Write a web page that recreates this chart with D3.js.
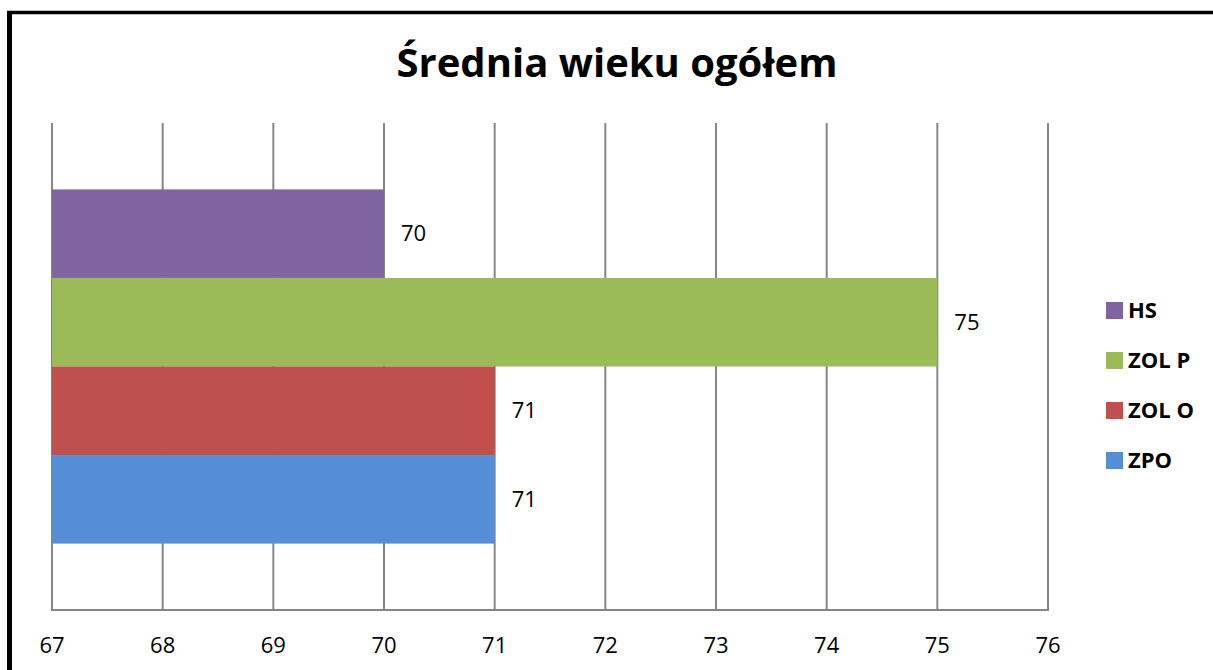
<!DOCTYPE html>
<html>
<head>
<meta charset="utf-8">
<script src="https://cdn.jsdelivr.net/npm/d3@7"></script>
<style>
  body { margin: 0; background: #fff; }
  svg { display: block; }
  .grid line { stroke: #868686; stroke-width: 2; }
  .tick-label { font-family: "Open Sans", sans-serif; font-size: 22px; fill: #000; }
  .bar-label { font-family: "Open Sans", sans-serif; font-size: 22px; fill: #000; }
  .legend-label { font-family: "Open Sans", sans-serif; font-size: 22px; font-weight: bold; fill: #000; }
  .title { font-family: "Open Sans", sans-serif; font-size: 40px; font-weight: bold; fill: #000; }
</style>
</head>
<body>
<script>
var WIDTH = 1213;
var HEIGHT = 670;

// series, top to bottom as drawn
var seriesNames = ['HS', 'ZOL P', 'ZOL O', 'ZPO'];
var seriesValues = [70, 75, 71, 71];
var seriesColors = ['#8064A2', '#9BBB59', '#C0504D', '#558ED5'];
var tickValues = [67, 68, 69, 70, 71, 72, 73, 74, 75, 76];

var plot = { left: 52, right: 1048, top: 123, bottom: 610 };

var x = d3.scaleLinear()
    .domain([67, 76])
    .range([plot.left, plot.right]);

// excel gap width 150% -> 0.75 bar on each side of the group
var y = d3.scaleBand()
    .domain(seriesNames)
    .range([plot.top, plot.bottom])
    .paddingInner(0)
    .paddingOuter(0.75);

var svg = d3.select('body')
    .append('svg')
    .attr('width', WIDTH)
    .attr('height', HEIGHT);

// chart frame (only the left and top edges are in view)
svg.append('line')
    .attr('x1', 9.5).attr('x2', 9.5)
    .attr('y1', 11).attr('y2', HEIGHT)
    .attr('stroke', '#000').attr('stroke-width', 5);
svg.append('line')
    .attr('x1', 7).attr('x2', WIDTH)
    .attr('y1', 12.5).attr('y2', 12.5)
    .attr('stroke', '#000').attr('stroke-width', 3.5);

svg.append('text')
    .attr('class', 'title')
    .attr('x', 617)
    .attr('y', 77)
    .attr('text-anchor', 'middle')
    .text('Średnia wieku ogółem');

var grid = svg.append('g').attr('class', 'grid');

grid.selectAll('line.v')
    .data(tickValues)
    .enter()
    .append('line')
    .attr('class', 'v')
    .attr('x1', function (d) { return x(d); })
    .attr('x2', function (d) { return x(d); })
    .attr('y1', plot.top)
    .attr('y2', plot.bottom);

grid.append('line')
    .attr('x1', plot.left - 1)
    .attr('x2', plot.right + 1)
    .attr('y1', plot.bottom)
    .attr('y2', plot.bottom);

svg.selectAll('.tick-label')
    .data(tickValues)
    .enter()
    .append('text')
    .attr('class', 'tick-label')
    .attr('x', function (d) { return x(d); })
    .attr('y', 653)
    .attr('text-anchor', 'middle')
    .text(function (d) { return d; });

var bars = svg.selectAll('g.bar')
    .data(seriesNames)
    .enter()
    .append('g')
    .attr('class', 'bar');

bars.append('rect')
    .attr('x', x(67))
    .attr('y', function (d) { return y(d); })
    .attr('width', function (d, i) { return x(seriesValues[i]) - x(67); })
    .attr('height', y.bandwidth())
    .attr('fill', function (d, i) { return seriesColors[i]; });

bars.append('text')
    .attr('class', 'bar-label')
    .attr('x', function (d, i) { return x(seriesValues[i]) + 17; })
    .attr('y', function (d) { return y(d) + y.bandwidth() / 2; })
    .attr('dy', '0.35em')
    .text(function (d, i) { return seriesValues[i]; });

var legend = svg.selectAll('g.legend')
    .data(seriesNames)
    .enter()
    .append('g')
    .attr('class', 'legend')
    .attr('transform', function (d, i) { return 'translate(1106,' + (302 + i * 50) + ')'; });

legend.append('rect')
    .attr('width', 17)
    .attr('height', 17)
    .attr('fill', function (d, i) { return seriesColors[i]; });

legend.append('text')
    .attr('class', 'legend-label')
    .attr('x', 22)
    .attr('y', 8.5)
    .attr('dy', '0.35em')
    .text(function (d) { return d; });
</script>
</body>
</html>
